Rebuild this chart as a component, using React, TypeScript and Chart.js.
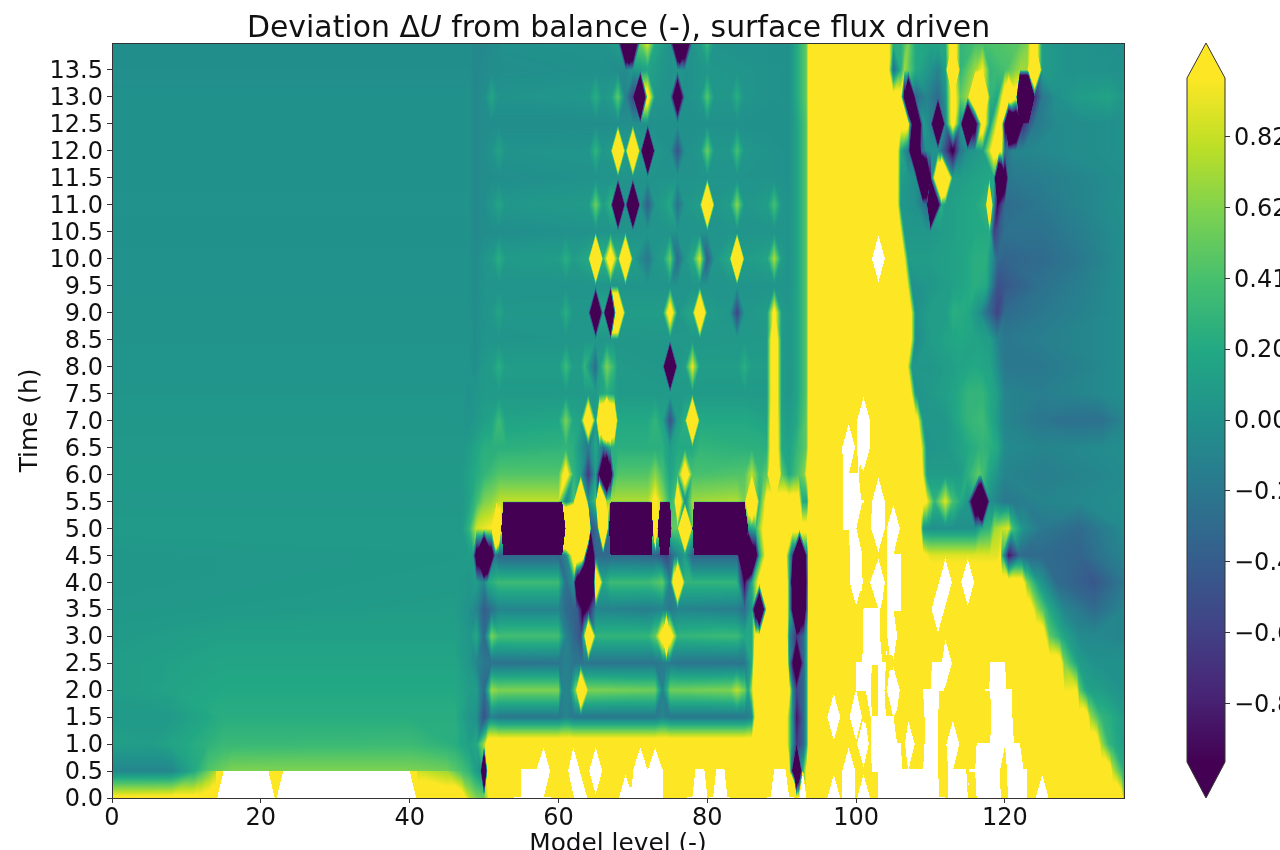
import React, { useEffect, useRef } from "react";
import { Chart, registerables } from "chart.js";

Chart.register(...registerables);

type Knot = [number, number];

// ---- special field values ----
const Y = 1.2; // saturated top colour
const W = 30; // peak of a hole in the filled contours
const F = 5.2; // hole with an abrupt edge
const HOLE_ABOVE = 5; // values above this are not filled

// ---- field, one list per output time: [model level, deviation] ----
const t140: Knot[] = [[0,-.03],[47,-.03],[48,-.03],[48.7,-.07],[50,-.07],[53,0],[66,.02],[68,.1],[69.5,-5],[71,.55],[72,.9],[73,.2],[75,.02],[76.3,-4],[78,.02],[79,.1],[80,.35],[81,.02],[91,0],[92,.2],[93.3,.5],[93.7,Y],[104.3,Y],[105,.25],[106,.25],[107,.6],[108,.2],[110,.15],[112,.2],[113,1.6],[114,.3],[116,.4],[120,.45],[122,.5],[123,.6],[124,1.5],[125,.1],[128,.02],[136,-.02]];
const t135: Knot[] = [[0,-.02],[47,-.02],[48,-.02],[48.7,-.07],[50,-.05],[53,-.02],[66,0],[69,-.05],[70,.05],[72,.15],[75,0],[76,.05],[77,0],[80,.05],[91,0],[92,.2],[93.3,.5],[93.7,Y],[104.3,Y],[105,-.3],[106,.25],[106.5,.7],[108,.2],[110,.02],[111,-.1],[112,.1],[113,4],[114,.3],[116,.7],[117,1],[118,.3],[120,.4],[122,.7],[123,.7],[124,4],[125,.1],[128,.02],[136,0]];
const t130: Knot[] = [[0,0],[47,0],[48,0],[48.7,-.07],[50,-.03],[51,.18],[52,.02],[64,.05],[65,.25],[66,.05],[67,.1],[68,.5],[69,-.1],[70,-.55],[71,-5],[72,1.3],[73,.05],[75,.02],[76,-2.5],[77,0],[79,.05],[80,.45],[81,.05],[83,.05],[84,.25],[85,.03],[91,0],[92,.2],[93.3,.5],[93.7,Y],[106,Y],[107,-4],[108,-.3],[109.5,-.1],[111,-.3],[112,0],[113,1.3],[114,.5],[115,.7],[116,3],[117,3],[118,.3],[119,.2],[120.5,2],[121.5,Y],[122,-8],[123.2,-8],[124,-.7],[125,-.2],[127,0],[130,.1],[134,.15],[136,.05]];
const t125: Knot[] = [[0,0],[47,0],[48,0],[48.7,-.07],[50,-.03],[66,-.03],[75,0],[91,0],[92,.15],[93.3,.45],[93.7,Y],[107,Y],[108,-3],[109,.1],[110,-.1],[111,-4],[112,-.1],[113,1.3],[114,0],[115,-5],[116,-1.5],[117,1.5],[118,.1],[119.5,1.5],[120.5,-4],[121.5,-3],[122.5,-.7],[124,-.2],[127,-.05],[136,0]];
const t120: Knot[] = [[0,0],[47,0],[48,0],[48.7,-.07],[50,-.03],[51,.02],[52,.15],[53,.02],[64,.03],[65,.3],[66,.05],[67,.1],[68,4],[69,.1],[70,4],[71,.1],[72,-5],[73,.05],[75,0],[76,-.5],[77,0],[79,.05],[80,.55],[81,.05],[83,.05],[84,.4],[85,.05],[88,.02],[91,0],[92,.15],[93.3,.45],[93.7,Y],[105.5,Y],[106,.2],[107,-.2],[108,-4],[108.8,-.3],[109.5,0],[111,0],[113,-1.1],[114,-.2],[115,0],[117,.1],[118.5,1.3],[119.5,1.1],[120,-.3],[121,-.1],[127,-.05],[136,0]];
const t115: Knot[] = [[0,0],[47,0],[48,0],[48.7,-.07],[50,-.03],[66,.02],[88,.02],[91,0],[92,.15],[93.3,.45],[93.7,Y],[105.5,Y],[106,.1],[108,0],[109,-5],[110,-1],[110.2,0],[111.5,4],[113,.1],[114,.1],[116,.15],[118.5,.2],[119.2,-4],[120.5,-.2],[125,-.15],[136,-.02]];
const t110: Knot[] = [[0,.01],[47,.01],[48,.01],[48.7,-.07],[50,-.02],[51,.05],[52,.17],[53,.05],[64,.08],[65,.55],[66,.1],[67,.3],[68,-5],[69,0],[70,-5],[71,0],[72,-.4],[73,.05],[74,.1],[75,.2],[76,-.25],[77,.05],[79,.1],[80,4],[81,.05],[83,.1],[84,.65],[85,.05],[88,.1],[89,.4],[90,.05],[91,.02],[92,.15],[93.3,.45],[93.7,Y],[105.5,Y],[106,.05],[108,0],[109.5,-.3],[110,-5],[111.5,.25],[112,.1],[116,.2],[117.4,.3],[117.9,3],[118.4,.2],[119,-1],[120,-.3],[125,-.2],[130,-.1],[136,0]];
const t105: Knot[] = [[0,0],[47,0],[48,0],[48.7,-.07],[50,-.03],[66,.02],[88,.03],[91,.02],[92,.15],[93.3,.45],[93.7,Y],[105.9,Y],[106.5,.05],[108,.05],[110,.05],[112,.1],[116,.2],[118,.2],[118.5,-.6],[120,-.25],[125,-.25],[130,-.15],[136,-.02]];
const t100: Knot[] = [[0,.01],[47,.01],[48,.01],[48.7,-.05],[50,.03],[51,.08],[52,.25],[53,.08],[60,.1],[61,.25],[62,.1],[64,.2],[65,4.8],[66,.3],[67,1.6],[68,.3],[69,3.8],[70,.1],[72,-.2],[73,.05],[74,.1],[75,.55],[76,-.3],[77,.05],[78,.2],[79,.9],[80,-.4],[81,.05],[83,.2],[84,4.8],[85,.1],[88,.15],[89,.75],[90,.1],[91,.02],[92,.15],[93.3,.45],[93.7,Y],[102,Y],[103,W],[104,Y],[106.4,Y],[107,.1],[110,.1],[114,.15],[116,.25],[117.5,.25],[118.5,-.1],[119,-.3],[120,-.35],[125,-.3],[130,-.2],[136,-.02]];
const t095: Knot[] = [[0,.01],[47,.01],[48,.01],[48.7,-.05],[50,.02],[64,.03],[88,.03],[91,.02],[92,.15],[93.3,.45],[93.7,Y],[106.8,Y],[107.5,0],[110,.05],[114,.15],[116,.25],[117.5,.2],[119,-.5],[120,-.45],[125,-.25],[130,-.15],[136,-.02]];
const t090: Knot[] = [[0,.02],[47,.02],[48,.02],[48.7,-.04],[50,.03],[51,.05],[52,.17],[53,.05],[60,.05],[61,.25],[62,.05],[64,.05],[65,-4],[66,.2],[67,-5],[68,3.5],[69,.1],[74,.1],[75,1.5],[76,.05],[78,.2],[79,3],[80,.1],[83,.05],[84,-.6],[85,.05],[88,.1],[89,1.2],[90,.1],[91,.05],[92,.15],[93.3,.45],[93.7,Y],[107.3,Y],[108,0],[110,.12],[112,.1],[113,.25],[115,.2],[116.5,0],[119,-.6],[120,-.3],[125,-.2],[136,-.03]];
const t085: Knot[] = [[0,.02],[47,.02],[48,.02],[48.7,-.03],[50,.03],[88,.07],[89,1.7],[90,.07],[91,.05],[92,.15],[93.3,.45],[93.7,Y],[107.3,Y],[108,-.05],[110,.1],[114,.2],[116,.15],[118,.1],[119,-.1],[120,-.2],[136,-.03]];
const t080: Knot[] = [[0,.03],[47,.03],[48,.03],[48.7,-.02],[50,.07],[51,.1],[52,.25],[53,.1],[60,.1],[61,.35],[62,.1],[63,.1],[63.5,.3],[65,-.3],[65.5,.1],[66.5,.6],[67.5,.3],[68,.08],[74,.05],[75,-5],[76,.05],[77,.1],[78,.95],[79,.1],[84,.1],[85,.25],[86,.1],[88,.1],[89,1.7],[90,.1],[91,.05],[92,.15],[93.3,.45],[93.7,Y],[106.8,Y],[107.5,.05],[110,.05],[114,.15],[116,.2],[118,.15],[120,-.2],[125,-.2],[136,-.03]];
const t075: Knot[] = [[0,.04],[47,.04],[48,0],[50,.08],[65,.08],[66.5,.25],[68,.08],[88,.08],[89,1.7],[90,.1],[91,.05],[92,.15],[93.3,.45],[93.7,Y],[107.3,Y],[108,.02],[113,.15],[115,.3],[117,.3],[119,.1],[120,-.1],[125,-.15],[136,-.03]];
const t070: Knot[] = [[0,.05],[47,.05],[48,.02],[50,.12],[51,.15],[52,.35],[53,.15],[60,.18],[61,.6],[62,.18],[63,.15],[64,2.4],[65,.1],[65.5,2.2],[66.5,4.8],[67.5,2.2],[68,.2],[72,.2],[73,.3],[74,.15],[75,-.5],[76,.1],[77,.25],[78,3.8],[79,.2],[85,.2],[88,.15],[89,1.8],[90,.15],[91,.1],[92,.2],[93.3,.5],[93.7,Y],[100,Y],[101,W],[102,Y],[108.2,Y],[109,.05],[112,.05],[115,.3],[117,.35],[118.5,.15],[120,-.1],[124,-.2],[128,-.25],[133,-.25],[136,-.1]];
const t065: Knot[] = [[0,.06],[47,.06],[48,.1],[50,.25],[60,.28],[61,.3],[62,.25],[64,-.2],[65,.2],[66,-.25],[67,.25],[74,.25],[75,.1],[76,.2],[78,.2],[79,.3],[88,.25],[89,1.8],[90,.2],[91,.15],[92,.3],[93.3,.5],[93.7,Y],[98,Y],[99,W],[100,Y],[101,W],[102,Y],[108.6,Y],[109.5,.02],[112,.05],[115,.2],[117,.3],[119,.2],[120,-.05],[125,-.1],[136,-.03]];
const t060: Knot[] = [[0,.07],[47,.07],[48,.15],[50,.3],[52,.45],[60,.45],[61,1.3],[62,.3],[63,.1],[64,-.7],[65,.1],[66.5,-3.5],[67.5,.3],[68,.45],[72,.45],[73,.65],[74,.4],[75,.15],[76,.3],[77,1.6],[78,.4],[85,.45],[86,.8],[87,.35],[88,.5],[89,2.8],[90,.5],[91,.2],[92,.4],[93,.6],[93.5,Y],[98,Y],[98.3,F],[100.3,F],[100.7,Y],[108.8,Y],[109.5,.1],[112,.1],[114,.1],[116.5,.5],[118,.15],[120,-.1],[125,-.15],[136,-.05]];
const t055: Knot[] = [[0,.06],[47,.06],[48,.15],[49,.35],[50,.6],[51,.65],[52.2,.8],[60,.8],[61,-.1],[62,.4],[63,4.5],[64,0],[65,.4],[65.5,4.5],[66.5,.6],[67,.75],[72,.75],[73,1.1],[74,.7],[75,.3],[75.5,.4],[76,2],[77,0],[78,.7],[84,.75],[85,.6],[86,3],[87,.3],[87.5,.7],[88,Y],[92.3,Y],[92.8,.2],[93.4,.2],[93.7,Y],[98,Y],[98.2,F],[101,F],[101.5,Y],[102,Y],[103,W],[104,Y],[108.8,Y],[109.5,1],[110.5,.3],[112,.9],[113,.4],[115,.05],[116.8,-4],[118,0],[120,-.2],[125,-.1],[136,-.03]];
const t050: Knot[] = [[0,.08],[47,.08],[48,.3],[49,.85],[51,1],[51.7,4.5],[52.3,1],[52.6,-40],[60.5,-40],[61,4.5],[64,4.5],[64.4,-.5],[65.2,-.3],[66,4.5],[66.8,-.3],[67,-40],[72.5,-40],[72.7,1],[73,4.5],[73.3,1],[73.7,-40],[74.8,-40],[75.2,.5],[76,.5],[77,4.5],[78,.5],[78.2,-40],[85,-40],[85.5,.1],[86.5,.3],[87.3,.9],[88,Y],[98,Y],[98.2,F],[100,F],[100.8,Y],[101.3,Y],[102,F],[103,W],[104,Y],[105,W],[106,Y],[108.6,Y],[109,.05],[110,0],[116,0],[117,.25],[118,.3],[118.6,.7],[120.5,.9],[121,.4],[122.5,0],[125,-.2],[130,-.3],[136,-.05]];
const t045: Knot[] = [[0,.05],[46,.07],[48.5,.1],[50,-5],[51.5,-.2],[52,-.35],[60,-.35],[61,-.1],[62.5,2],[63.4,1.5],[64,-3],[65,-.3],[73,-.35],[74.5,-.6],[75.5,-.2],[77,.1],[78,-.35],[84,-.35],[85.5,-5],[87,.2],[88,Y],[90.5,Y],[91.4,-.5],[92.4,-5],[93.4,-.2],[93.6,Y],[99,Y],[99.2,F],[100.8,F],[101,Y],[104,Y],[104.2,F],[106,F],[106.2,Y],[109,1.1],[110,.9],[119,.9],[119.4,1],[119.6,.3],[120.5,-.9],[122,-.3],[125,-.3],[130,-.35],[136,-.1]];
const t040: Knot[] = [[0,.05],[46,.08],[48,.05],[49,.1],[50,-.1],[50.5,.2],[52,.35],[60,.35],[61,-.25],[62,0],[62.4,-1.5],[63.5,-5],[64.7,-1.5],[65,2.5],[66,.2],[67,.35],[72,.35],[74,.5],[75,-.1],[76,3],[77,.3],[84,.3],[85,-1],[86,.2],[87,Y],[90.7,Y],[91,.3],[92.3,-5],[93.4,-.5],[93.6,Y],[99,Y],[100,W],[101,Y],[101.7,Y],[103,W],[104,Y],[104.2,F],[106,F],[106.2,Y],[111,Y],[112,W],[113,Y],[114,Y],[115,W],[116,Y],[122.3,Y],[123,.6],[124.5,.1],[127,-.3],[132,-.45],[136,-.2]];
const t035: Knot[] = [[0,.06],[46,.1],[48,0],[49,-.1],[50,-.4],[52,-.1],[60,-.1],[61,-.3],[62.5,-.4],[63.5,-1.3],[65,-.1],[72,-.15],[74,-.1],[75,-.2],[76,-.1],[84,-.15],[85,-.3],[86,.1],[87,-4],[88,Y],[90.7,Y],[91,.3],[92.3,-4],[93.4,-.3],[93.6,Y],[100.8,Y],[101,F],[103.2,F],[103.5,Y],[104,Y],[104.2,F],[106,F],[106.2,Y],[110,Y],[111,W],[112,Y],[123.4,Y],[124.3,.7],[126,.2],[128,-.1],[132,-.3],[136,-.1]];
const t030: Knot[] = [[0,.08],[15,.13],[46,.13],[48,.05],[49,.2],[50,-.3],[51,.6],[52,.38],[60,.38],[61,-.1],[62,-.3],[63,-.5],[63.4,.3],[64,3],[65,.3],[72,.3],[73,.5],[74,1.4],[74.5,3.5],[75,1.4],[76,.3],[84,.35],[85,.2],[86,.2],[86.5,Y],[90.7,Y],[91,-.1],[92,-.7],[93,-.3],[93.4,.3],[93.6,Y],[100.8,Y],[101,F],[103.2,F],[103.5,Y],[104,Y],[104.2,F],[105,W],[105.6,Y],[125.2,Y],[126,.5],[128,.15],[130,-.05],[136,-.1]];
const t025: Knot[] = [[0,.1],[15,.17],[46,.17],[48,.05],[50,-.2],[52,-.25],[60,-.22],[61,-.12],[62,-.22],[73,-.22],[74.5,-.15],[76,-.22],[85,-.22],[86,.2],[86.3,Y],[90.8,Y],[91,0],[92,-2],[93,-.3],[93.4,.3],[93.6,Y],[99.8,Y],[100,F],[104,F],[104.5,Y],[110,Y],[110.2,F],[111.5,F],[112,W],[113,Y],[117.9,Y],[118,F],[120,F],[120.2,Y],[127.4,Y],[128,.6],[130,.1],[132,0],[136,0]];
const t020: Knot[] = [[0,.1],[15,.2],[46,.2],[48,.1],[49,.1],[50,-.3],[51,.7],[52,.6],[60,.6],[60.5,-.1],[61.5,-.1],[62.3,.6],[63,2.8],[64,.6],[73,.55],[74,-.1],[75,.55],[83,.6],[84,.8],[85,.55],[85.5,.2],[86,.8],[86.3,Y],[91,Y],[91.5,-.1],[92,-.6],[93,-.3],[93.4,.3],[93.6,Y],[99.8,Y],[100,F],[102,F],[102.1,Y],[102.9,Y],[103,F],[103.8,F],[104,Y],[105,W],[106,Y],[108.8,Y],[109,F],[111.8,F],[112,Y],[117,Y],[117.3,F],[120.9,F],[121.1,Y],[126,Y],[128,.97],[129.7,.98],[130,.5],[131,.15],[133,.1],[136,0]];
const t015: Knot[] = [[0,.08],[8,.08],[15,.24],[46,.24],[48,.05],[49,0],[50,-.5],[51,-.1],[52,-.2],[60,-.2],[61,-.1],[62,-.2],[73,-.2],[74,-.1],[75,-.2],[85,-.2],[86,-.1],[86.5,Y],[90.5,1.3],[91.3,.2],[92,-.9],[93,-.3],[93.4,.3],[93.6,Y],[96,Y],[97,W],[98,Y],[99,Y],[100,W],[100.9,Y],[101.3,Y],[102,F],[105,F],[105.5,Y],[109,Y],[109.2,F],[111,F],[111.2,Y],[118,Y],[118.2,F],[121,F],[121.2,Y],[131,Y],[131.5,.7],[133,.3],[134,.25],[136,.1]];
const t010: Knot[] = [[0,.12],[5,.1],[10,.2],[15,.33],[40,.35],[46,.25],[48,.12],[49,.2],[50,.7],[50.5,1.3],[90.5,1.3],[91.3,.2],[92,-.7],[93,-.3],[93.4,.3],[93.6,Y],[100,Y],[101,W],[101.8,Y],[102,F],[106,F],[106.2,Y],[106.5,Y],[107,W],[108,Y],[109,Y],[109.2,F],[111,F],[111.2,Y],[112,Y],[113,W],[114,Y],[116,Y],[116.2,F],[122,F],[122.5,Y],[132.4,Y],[133,.7],[134,.3],[136,.1]];
const midLevels05: Knot[] = [[48,.3],[49,.1],[49.5,0],[50,-4],[50.5,Y],[54.9,Y],[55,F],[57,F],[58,W],[59,Y],[61.2,Y],[62,W],[63,Y],[64,Y],[65,W],[66,Y],[69.9,Y],[70,F],[71,W],[72,F],[73,W],[74,F],[74.1,Y],[78,Y],[78.4,F],[79.6,F],[80,Y],[80.8,Y],[81.2,F],[82.3,F],[82.7,Y],[88.5,Y],[89,F],[90.5,F],[91,Y],[91.2,.3],[92,-4],[92.8,.2],[93.4,Y],[98,Y],[99,W],[100,Y],[102,Y],[102.1,F],[111,F],[111.2,Y],[112.2,Y],[112.4,F],[114.8,F],[115,Y],[115.2,F],[119.3,F],[120,Y],[120.3,F],[123,F],[123.2,Y],[134.1,Y],[134.5,.8],[136,.25]];
const t0505: Knot[] = [[0,-.08],[8,-.08],[11,.2],[13,.45],[16,.6],[40,.6],[45,.55],[47,.4],...midLevels05];
const t005: Knot[] = [[0,-.08],[8,-.08],[11,.2],[13,.55],[14,.75],[15,F],[21,F],[22,.85],[23,F],[40,F],[41,.85],[45,.7],[47,.4],...midLevels05];
const t000: Knot[] = [[0,1.05],[12,1.08],[14,Y],[15,W],[21,W],[22,Y],[23,W],[40,W],[41,Y],[47,Y],[48,.8],[49,.6],[50,.55],[51,Y],[53.9,Y],[54,F],[59,F],[59.1,Y],[62,Y],[63,W],[64,Y],[68,Y],[69,W],[70,F],[74,F],[74.1,Y],[77.2,Y],[77.3,F],[80,F],[80.1,Y],[80.2,F],[83,F],[83.1,Y],[87.9,Y],[88,F],[91.7,F],[92,Y],[92.3,Y],[92.9,W],[93.4,Y],[96,Y],[97,W],[98,Y],[99,W],[100,Y],[101,W],[102,Y],[102.9,Y],[103,F],[112,F],[112.2,Y],[112.4,F],[115,F],[115.2,Y],[116,Y],[116.2,F],[119.4,F],[119.8,Y],[120.2,Y],[120.4,F],[123,F],[123.2,Y],[124,Y],[125,W],[126,Y],[135.7,Y],[136,.65]];

const times = [0,0.5,0.505,1,1.5,2,2.5,3,3.5,4,4.5,5,5.5,6,6.5,7,7.5,8,8.5,9,9.5,10,10.5,11,11.5,12,12.5,13,13.5,14];
const fieldRows: Knot[][] = [t000,t005,t0505,t010,t015,t020,t025,t030,t035,t040,t045,t050,t055,t060,t065,t070,t075,t080,t085,t090,t095,t100,t105,t110,t115,t120,t125,t130,t135,t140];

// ---- axes ----
const xTicks = [0,20,40,60,80,100,120];
const yTicks = [0,0.5,1,1.5,2,2.5,3,3.5,4,4.5,5,5.5,6,6.5,7,7.5,8,8.5,9,9.5,10,10.5,11,11.5,12,12.5,13,13.5];
const colorTicks = [0.82,0.615,0.41,0.205,0,-0.205,-0.41,-0.615,-0.82];
const colorTickLabels = ["0.82","0.62","0.41","0.20","0.00","\u22120.21","\u22120.41","\u22120.62","\u22120.82"];
const colorMin = -0.99;
const colorMax = 0.99;
const viridis = ["#440154","#482576","#414487","#355f8d","#2a788e","#21918c","#22a884","#44bf70","#7ad151","#bddf26","#fde725"];

const FONT = "'DejaVu Sans'";
const INK = "#111111";
const SPINE = "#333333";

function hexToRgb(h: string) {
  return [1, 3, 5].map((i) => parseInt(h.slice(i, i + 2), 16));
}
function viridisAt(f: number) {
  const p = Math.max(0, Math.min(1, f)) * (viridis.length - 1);
  const i = Math.min(viridis.length - 2, Math.floor(p));
  const a = hexToRgb(viridis[i]);
  const b = hexToRgb(viridis[i + 1]);
  const t = p - i;
  return [0, 1, 2].map((k) => Math.round(a[k] + (b[k] - a[k]) * t));
}

function evalRow(pts: { x: number; v: number }[], x: number) {
  let k = 0;
  while (k < pts.length - 2 && pts[k + 1].x < x) k++;
  const a = pts[k];
  const b = pts[k + 1];
  const t = Math.max(0, Math.min(1, (x - a.x) / (b.x - a.x)));
  return a.v + (b.v - a.v) * t;
}

const contourPlugin = {
  id: "contourFill",
  beforeDatasetsDraw(chart: any) {
    const { ctx, chartArea, scales } = chart;
    const w = Math.round(chartArea.right - chartArea.left);
    const h = Math.round(chartArea.bottom - chartArea.top);
    const groups = new Map<number, { x: number; v: number }[]>();
    for (const p of chart.data.datasets[0].data) {
      if (!groups.has(p.y)) groups.set(p.y, []);
      groups.get(p.y)!.push(p);
    }
    const ys = [...groups.keys()].sort((a, b) => a - b);
    // cell edges of every pair of neighbouring rows
    const bands = ys.slice(0, -1).map((y, r) => {
      const lo = groups.get(y)!;
      const hi = groups.get(ys[r + 1])!;
      const xs = [...new Set([...lo.map((p) => p.x), ...hi.map((p) => p.x)])].sort((a, b) => a - b);
      return { xs, lo: xs.map((x) => evalRow(lo, x)), hi: xs.map((x) => evalRow(hi, x)) };
    });
    const cols = new Float64Array(w);
    for (let i = 0; i < w; i++) cols[i] = scales.x.getValueForPixel(chartArea.left + i + 0.5);

    const off = document.createElement("canvas");
    off.width = w;
    off.height = h;
    const oc = off.getContext("2d")!;
    const img = oc.createImageData(w, h);
    const lut: number[][] = [];
    for (let i = 0; i <= 512; i++) lut.push(viridisAt(i / 512));
    for (let j = 0; j < h; j++) {
      const yv = scales.y.getValueForPixel(chartArea.top + j + 0.5);
      let r = 0;
      while (r < ys.length - 2 && ys[r + 1] < yv) r++;
      const t = Math.max(0, Math.min(1, (yv - ys[r]) / (ys[r + 1] - ys[r])));
      const band = bands[r];
      let k = 0;
      for (let i = 0; i < w; i++) {
        const xv = cols[i];
        while (k < band.xs.length - 2 && band.xs[k + 1] < xv) k++;
        const s = Math.max(0, Math.min(1, (xv - band.xs[k]) / (band.xs[k + 1] - band.xs[k])));
        const a = band.lo[k];
        const b = band.lo[k + 1];
        const c = band.hi[k];
        const d = band.hi[k + 1];
        let v: number;
        if (Math.abs(a - d) <= Math.abs(b - c)) {
          v = s >= t ? a + (b - a) * s + (d - b) * t : a + (d - c) * s + (c - a) * t;
        } else {
          v = s + t <= 1 ? a + (b - a) * s + (c - a) * t : d + (c - d) * (1 - s) + (b - d) * (1 - t);
        }
        const o = (j * w + i) * 4;
        if (v > HOLE_ABOVE) {
          img.data[o] = img.data[o + 1] = img.data[o + 2] = 255;
        } else {
          const f = (v - colorMin) / (colorMax - colorMin);
          const col = lut[Math.round(Math.max(0, Math.min(1, f)) * 512)];
          img.data[o] = col[0];
          img.data[o + 1] = col[1];
          img.data[o + 2] = col[2];
        }
        img.data[o + 3] = 255;
      }
    }
    oc.putImageData(img, 0, 0);
    ctx.drawImage(off, chartArea.left, chartArea.top);
  },
  afterDraw(chart: any) {
    const { ctx, chartArea } = chart;
    ctx.save();
    ctx.strokeStyle = SPINE;
    ctx.lineWidth = 1;
    ctx.strokeRect(chartArea.left + 0.5, chartArea.top + 0.5, chartArea.right - chartArea.left, chartArea.bottom - chartArea.top);
    // title with an italic U
    const size = 29.9;
    const parts: [string, string][] = [
      ["Deviation \u0394", `${size}px ${FONT}`],
      ["U", `italic ${size}px ${FONT}`],
      [" from balance (-), surface flux driven", `${size}px ${FONT}`],
    ];
    let total = 0;
    for (const [s, f] of parts) {
      ctx.font = f;
      total += ctx.measureText(s).width;
    }
    let x = 618.5 - total / 2;
    ctx.fillStyle = INK;
    ctx.textBaseline = "alphabetic";
    ctx.textAlign = "left";
    for (const [s, f] of parts) {
      ctx.font = f;
      ctx.fillText(s, x, 37);
      x += ctx.measureText(s).width;
    }
    ctx.restore();
  },
};

const colorbarPlugin = {
  id: "colorbarEnds",
  afterDraw(chart: any) {
    const { ctx, chartArea, scales } = chart;
    const l = chartArea.left;
    const r = chartArea.right;
    const top = scales.y.getPixelForValue(colorMax);
    const bot = scales.y.getPixelForValue(colorMin);
    const mid = (l + r) / 2;
    ctx.save();
    ctx.beginPath();
    ctx.moveTo(l, top);
    ctx.lineTo(mid, 43);
    ctx.lineTo(r, top);
    ctx.closePath();
    ctx.fillStyle = viridis[viridis.length - 1];
    ctx.fill();
    ctx.beginPath();
    ctx.moveTo(l, bot);
    ctx.lineTo(mid, 798);
    ctx.lineTo(r, bot);
    ctx.closePath();
    ctx.fillStyle = viridis[0];
    ctx.fill();
    ctx.beginPath();
    ctx.moveTo(l, top);
    ctx.lineTo(mid, 43);
    ctx.lineTo(r, top);
    ctx.lineTo(r, bot);
    ctx.lineTo(mid, 798);
    ctx.lineTo(l, bot);
    ctx.closePath();
    ctx.strokeStyle = SPINE;
    ctx.lineWidth = 1;
    ctx.stroke();
    ctx.restore();
  },
};

export default function App() {
  const mainRef = useRef<HTMLCanvasElement>(null);
  const barRef = useRef<HTMLCanvasElement>(null);

  useEffect(() => {
    const tickFont = { family: FONT, size: 24 };
    const labelFont = { family: FONT, size: 24.8 };
    const points = fieldRows.flatMap((row, i) => row.map(([x, v]) => ({ x, y: times[i], v })));
    const main = new Chart(mainRef.current!, {
      type: "scatter",
      data: { datasets: [{ label: "Deviation \u0394U", data: points as any, pointRadius: 0, showLine: false }] },
      plugins: [contourPlugin],
      options: {
        animation: false,
        responsive: false,
        events: [],
        layout: { padding: { top: 43, right: 156, left: 0, bottom: 0 }, autoPadding: false },
        plugins: { legend: { display: false }, tooltip: { enabled: false } },
        scales: {
          x: {
            type: "linear",
            min: 0,
            max: 136,
            afterFit: (s: any) => { s.height = 52; },
            afterBuildTicks: (s: any) => { s.ticks = xTicks.map((value) => ({ value })); },
            grid: { display: true, drawOnChartArea: false, drawTicks: true, tickLength: 5, color: SPINE },
            border: { display: false },
            ticks: { font: tickFont, color: INK, padding: 1, maxRotation: 0, autoSkip: false },
            title: { display: true, text: "Model level (-)", font: labelFont, color: INK, padding: { top: 0, bottom: -9 } },
          },
          y: {
            type: "linear",
            min: 0,
            max: 14,
            afterFit: (s: any) => { s.width = 112; },
            afterBuildTicks: (s: any) => { s.ticks = yTicks.map((value) => ({ value })); },
            grid: { display: true, drawOnChartArea: false, drawTicks: true, tickLength: 5, color: SPINE },
            border: { display: false },
            ticks: { font: tickFont, color: INK, padding: 4, autoSkip: false, labelOffset: 2, callback: (v: any) => Number(v).toFixed(1) },
            title: { display: true, text: "Time (h)", font: labelFont, color: INK, padding: { top: 16, bottom: 0 } },
          },
        },
      } as any,
    });

    const bar = new Chart(barRef.current!, {
      type: "bar",
      data: {
        labels: ["\u0394U"],
        datasets: [{
          data: [[colorMin, colorMax]] as any,
          barPercentage: 1,
          categoryPercentage: 1,
          backgroundColor: (c: any) => {
            const { chart } = c;
            const s = chart.scales.y;
            if (!s || !chart.chartArea) return viridis[5];
            const g = chart.ctx.createLinearGradient(0, s.getPixelForValue(colorMin), 0, s.getPixelForValue(colorMax));
            viridis.forEach((col, i) => g.addColorStop(i / (viridis.length - 1), col));
            return g;
          },
        }],
      },
      plugins: [colorbarPlugin],
      options: {
        animation: false,
        responsive: false,
        events: [],
        layout: { padding: { top: 78, bottom: 88, left: 1, right: 0 }, autoPadding: false },
        plugins: { legend: { display: false }, tooltip: { enabled: false } },
        scales: {
          x: { display: false },
          y: {
            position: "right",
            min: colorMin,
            max: colorMax,
            afterFit: (s: any) => { s.width = 55; },
            afterBuildTicks: (s: any) => { s.ticks = colorTicks.map((value) => ({ value })); },
            grid: { display: true, drawOnChartArea: false, drawTicks: true, tickLength: 5, color: SPINE },
            border: { display: false },
            ticks: {
              font: tickFont,
              color: INK,
              padding: 4,
              labelOffset: 2,
              autoSkip: false,
              callback: (v: any) => colorTickLabels[colorTicks.indexOf(Number(v))] ?? "",
            },
          },
        },
      } as any,
    });

    return () => {
      main.destroy();
      bar.destroy();
    };
  }, []);

  return (
    <div style={{ position: "absolute", left: 0, top: 0, width: 1280, height: 850, overflow: "hidden", background: "#fff" }}>
      <canvas ref={mainRef} width={1280} height={850} style={{ position: "absolute", left: 0, top: 0, width: 1280, height: 850 }} />
      <canvas ref={barRef} width={94} height={850} style={{ position: "absolute", left: 1186, top: 0, width: 94, height: 850 }} />
    </div>
  );
}
